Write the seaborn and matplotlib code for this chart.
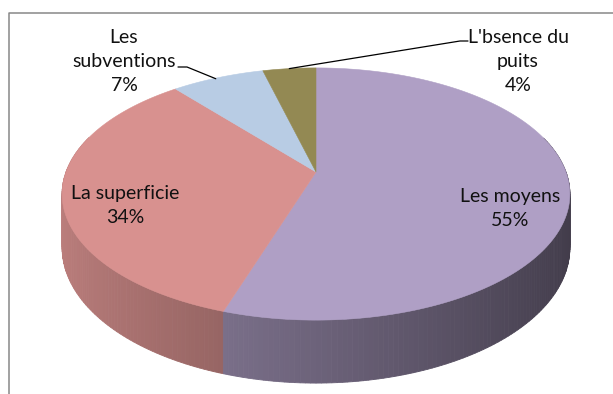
import numpy as np
import matplotlib
matplotlib.use("Agg")
import matplotlib.pyplot as plt
import seaborn as sns
from matplotlib.patches import Polygon

# Survey shares (percent), drawn clockwise from 12 o'clock
categories = ["Les moyens", "La superficie", "Les subventions", "L'bsence du puits"]
values = [55, 34, 7, 4]
label_texts = ["Les moyens\n55%", "La superficie\n34%", "Les\nsubventions\n7%", "L'bsence du\npuits\n4%"]
top_colors = ["#AF9FC5", "#D8918F", "#B8CCE4", "#938953"]

sns.set_theme(style="white")
plt.rcParams["font.family"] = ["Lato", "DejaVu Sans"]
palette = sns.color_palette(top_colors)

W, H = 613, 394
fig = plt.figure(figsize=(W / 100, H / 100), dpi=100)
ax = fig.add_axes([0, 0, 1, 1])
ax.set_xlim(0, W)
ax.set_ylim(H, 0)
ax.axis("off")

# Perspective pie geometry (pixel space)
cx, cy = 316.0, 172.0      # apex of the slices on the top face
R = 250.0                  # radius scale
tilt = 0.489               # vertical squash of the disc
k = 5.73                   # perspective distance
thick = 52.0               # wall height


def project(phi, depth=0.0):
    """phi: clockwise angle from 12 o'clock in radians; depth 0=top, 1=bottom."""
    X = np.sin(phi)
    Z = np.cos(phi)
    w = k / (k + Z)
    u = cx + R * X * w
    v = cy - R * tilt * Z * w + depth * thick * w
    return u, v


def shade(rgb, phi):
    f = 0.62 - 0.25 * np.sin(phi)
    return tuple(np.clip(np.array(rgb) * f, 0, 1))


fractions = np.array(values, dtype=float) / np.sum(values)
bounds = np.concatenate([[0.0], np.cumsum(fractions)]) * 2 * np.pi

# Side walls: small quads, painted back to front
quads = []
for i, (a0, a1) in enumerate(zip(bounds[:-1], bounds[1:])):
    n = max(int(np.degrees(a1 - a0)), 2)
    phis = np.linspace(a0, a1, n + 1)
    for p0, p1 in zip(phis[:-1], phis[1:]):
        pm = 0.5 * (p0 + p1)
        if np.cos(pm) > 0.3:
            continue
        quads.append((np.cos(pm), i, p0, p1, pm))
quads.sort(key=lambda q: -q[0])
for _, i, p0, p1, pm in quads:
    u0t, v0t = project(p0, 0)
    u1t, v1t = project(p1, 0)
    u1b, v1b = project(p1, 1)
    u0b, v0b = project(p0, 1)
    col = shade(palette[i], pm)
    ax.add_patch(Polygon([(u0t, v0t), (u1t, v1t), (u1b, v1b), (u0b, v0b)],
                         closed=True, facecolor=col, edgecolor=col, lw=0.6))

# Top faces
for i, (a0, a1) in enumerate(zip(bounds[:-1], bounds[1:])):
    phis = np.linspace(a0, a1, max(int(np.degrees(a1 - a0)) * 2, 4))
    us, vs = project(phis, 0)
    pts = [(cx, cy)] + list(zip(us, vs))
    ax.add_patch(Polygon(pts, closed=True, facecolor=palette[i],
                         edgecolor=palette[i], lw=0.4))

# Chart area border (continues past the right and bottom edges)
ax.plot([8.5, 8.5, W + 5], [H + 5, 12.5, 12.5], color="#878787", lw=1.1,
        solid_capstyle="butt", clip_on=False)

fs = 14
txt = dict(ha="center", va="center", multialignment="center",
           fontsize=fs, color="#111111", linespacing=1.5)

mids = 0.5 * (bounds[:-1] + bounds[1:])

# Inside labels
ax.text(510, 208, label_texts[0], **txt)
ax.text(125, 205, label_texts[1], **txt)

# Outside labels with leader lines to the slice rims
ax.text(124, 61, label_texts[2], **txt)
ex, ey = project(mids[2], 0)
ax.plot([178, 187, ex - 2], [67, 67, ey + 1], color="black", lw=0.9)

ax.text(518, 61, label_texts[3], **txt)
ex, ey = project(mids[3], 0)
ax.plot([ex, 460, 468], [ey, 41, 41], color="black", lw=0.9)

fig.savefig("out.png", dpi=100)
